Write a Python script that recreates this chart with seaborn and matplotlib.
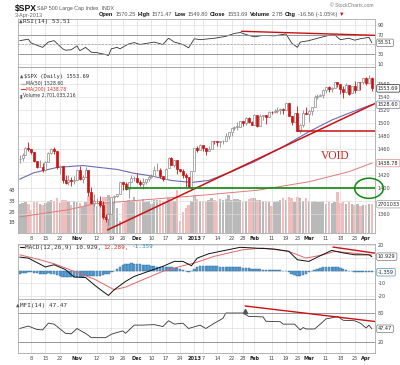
import numpy as np
import pandas as pd
import matplotlib
matplotlib.use("Agg")
import matplotlib.pyplot as plt
import seaborn as sns
from matplotlib.patches import Ellipse
from matplotlib.lines import Line2D

# trading sessions on the chart: 2 Oct 2012 .. 3 Apr 2013
holidays = ["2012-10-29", "2012-10-30", "2012-11-22", "2012-12-25",
            "2013-01-01", "2013-01-21", "2013-02-18", "2013-03-29"]
sessions = pd.bdate_range("2012-10-02", "2013-04-03")
sessions = sessions[~sessions.isin(pd.to_datetime(holidays))]

opens = [1444.99, 1446.05, 1451.08, 1461.40, 1460.93, 1455.90, 1441.48, 1432.82, 1432.84, 1428.75,
         1440.31, 1454.22, 1460.94, 1457.34, 1433.21, 1433.74, 1413.20, 1409.74, 1412.97, 1410.99,
         1412.20, 1427.59, 1414.02, 1417.26, 1428.27, 1394.53, 1377.55, 1379.86, 1380.03, 1374.64,
         1355.41, 1353.36, 1359.88, 1386.82, 1387.79, 1391.03, 1409.15, 1406.29, 1398.77, 1409.96,
         1415.95, 1416.34, 1409.46, 1407.05, 1409.43, 1413.95, 1418.07, 1418.55, 1427.84, 1428.48,
         1419.45, 1413.54, 1430.47, 1446.79, 1435.81, 1443.67, 1430.15, 1426.66, 1419.83, 1418.10,
         1402.43, 1426.19, 1462.42, 1459.37, 1466.47, 1461.89, 1457.15, 1461.02, 1472.12, 1472.05,
         1470.67, 1472.33, 1472.63, 1480.95, 1485.98, 1492.56, 1494.81, 1494.82, 1502.96, 1500.18,
         1507.84, 1501.96, 1498.11, 1513.17, 1495.71, 1511.29, 1512.12, 1509.39, 1517.93, 1517.01,
         1519.43, 1520.33, 1521.38, 1519.79, 1530.94, 1511.95, 1502.42, 1515.60, 1487.85, 1496.94,
         1515.99, 1514.68, 1518.20, 1525.20, 1539.79, 1541.46, 1544.26, 1551.15, 1556.22, 1552.48,
         1554.52, 1563.21, 1560.70, 1552.10, 1548.34, 1558.71, 1545.90, 1556.89, 1551.69, 1563.75,
         1562.86, 1569.18, 1562.17, 1570.25]
highs = [1451.52, 1454.30, 1463.14, 1470.96, 1460.93, 1455.90, 1442.52, 1443.90, 1438.43, 1441.31,
         1455.51, 1462.20, 1464.02, 1457.34, 1435.46, 1433.74, 1420.04, 1421.12, 1417.09, 1418.76,
         1428.35, 1434.27, 1419.90, 1433.38, 1428.27, 1401.23, 1391.39, 1384.87, 1388.81, 1380.13,
         1360.62, 1362.03, 1386.89, 1389.77, 1391.25, 1409.16, 1409.15, 1409.01, 1410.31, 1419.70,
         1418.86, 1423.73, 1413.14, 1415.56, 1413.95, 1420.34, 1421.64, 1434.27, 1438.59, 1431.36,
         1419.45, 1430.67, 1448.00, 1447.75, 1443.70, 1443.67, 1430.15, 1429.42, 1422.80, 1418.10,
         1426.74, 1462.43, 1465.47, 1467.94, 1466.47, 1461.89, 1464.73, 1472.30, 1472.75, 1472.05,
         1473.31, 1473.96, 1485.16, 1485.98, 1492.56, 1496.13, 1502.27, 1503.26, 1503.23, 1509.35,
         1509.94, 1504.19, 1514.41, 1513.17, 1514.96, 1512.53, 1512.90, 1518.31, 1518.31, 1522.29,
         1524.69, 1523.14, 1524.24, 1530.94, 1530.94, 1511.95, 1515.64, 1525.84, 1498.99, 1520.08,
         1525.34, 1519.99, 1525.27, 1543.47, 1545.25, 1545.78, 1552.48, 1556.27, 1556.77, 1556.39,
         1563.32, 1563.62, 1560.70, 1557.25, 1561.56, 1558.71, 1557.74, 1564.91, 1563.95, 1564.07,
         1570.28, 1570.57, 1573.66, 1571.47]
lows = [1439.01, 1441.99, 1451.08, 1456.89, 1453.10, 1441.18, 1430.64, 1432.82, 1425.53, 1427.24,
        1440.31, 1453.35, 1452.63, 1429.85, 1422.06, 1407.56, 1407.10, 1405.14, 1403.28, 1405.95,
        1412.20, 1412.91, 1408.13, 1417.26, 1388.14, 1377.51, 1373.03, 1377.19, 1370.78, 1352.50,
        1348.05, 1343.35, 1359.88, 1377.04, 1386.39, 1391.03, 1397.68, 1398.03, 1385.43, 1409.04,
        1411.63, 1408.46, 1403.65, 1398.23, 1405.93, 1410.90, 1415.64, 1418.55, 1426.76, 1416.00,
        1411.88, 1413.54, 1430.47, 1435.80, 1432.82, 1422.58, 1424.66, 1416.43, 1401.80, 1401.58,
        1398.11, 1426.19, 1455.53, 1458.99, 1456.62, 1451.64, 1457.15, 1461.02, 1467.58, 1465.69,
        1463.76, 1467.60, 1472.63, 1475.81, 1481.16, 1489.90, 1489.46, 1494.82, 1496.33, 1498.09,
        1500.11, 1496.76, 1498.11, 1495.02, 1495.71, 1504.71, 1498.49, 1509.39, 1513.61, 1515.61,
        1515.93, 1514.02, 1514.14, 1519.79, 1511.41, 1497.29, 1502.42, 1487.85, 1485.01, 1494.88,
        1514.46, 1501.48, 1512.29, 1525.20, 1538.11, 1541.46, 1539.19, 1547.36, 1548.24, 1548.25,
        1554.52, 1555.74, 1545.13, 1538.57, 1548.34, 1543.55, 1545.90, 1546.22, 1551.69, 1551.90,
        1561.08, 1558.47, 1562.17, 1549.80]
closes = [1445.75, 1450.99, 1461.40, 1460.93, 1455.88, 1441.48, 1432.56, 1432.84, 1428.59, 1440.13,
          1454.92, 1460.91, 1457.34, 1433.19, 1433.82, 1413.11, 1408.75, 1412.97, 1411.94, 1412.16,
          1427.59, 1414.20, 1417.26, 1428.39, 1394.53, 1377.51, 1379.85, 1380.03, 1374.53, 1355.49,
          1353.33, 1359.88, 1386.89, 1387.81, 1391.03, 1409.15, 1406.29, 1398.94, 1409.93, 1415.95,
          1416.18, 1409.46, 1407.05, 1409.28, 1413.94, 1418.07, 1418.55, 1427.84, 1428.48, 1419.45,
          1413.58, 1430.36, 1446.79, 1435.81, 1443.69, 1430.15, 1426.66, 1419.83, 1418.10, 1402.43,
          1426.19, 1462.42, 1459.37, 1466.47, 1461.89, 1457.15, 1461.02, 1472.12, 1472.05, 1470.68,
          1472.34, 1472.63, 1480.94, 1485.98, 1492.56, 1494.81, 1494.82, 1502.96, 1500.18, 1507.84,
          1501.96, 1498.11, 1513.17, 1495.71, 1511.29, 1512.12, 1509.39, 1517.93, 1517.01, 1519.43,
          1520.33, 1521.38, 1519.79, 1530.94, 1511.95, 1502.42, 1515.60, 1487.85, 1496.94, 1515.99,
          1514.68, 1518.20, 1525.20, 1539.79, 1541.46, 1544.26, 1551.18, 1556.22, 1552.48, 1554.52,
          1563.23, 1560.70, 1552.10, 1548.34, 1558.71, 1545.80, 1556.89, 1551.69, 1563.77, 1562.85,
          1569.19, 1562.17, 1570.25, 1553.69]
volume_bn = [2.7, 2.8, 2.9, 2.7, 2.2, 2.9, 2.9, 2.7, 2.6, 2.8,
             3.0, 3.1, 3.0, 3.3, 2.8, 3.1, 3.1, 3.0, 2.6, 3.0,
             2.9, 2.8, 2.4, 2.9, 3.5, 3.4, 3.1, 2.5, 3.0, 3.4,
             3.4, 3.6, 2.9, 2.9, 2.3, 1.1, 2.8, 3.0, 3.1, 3.0,
             3.4, 3.0, 3.0, 3.2, 2.9, 3.0, 2.7, 3.1, 3.1, 3.1,
             3.0, 3.0, 3.3, 3.1, 3.0, 4.0, 1.1, 2.0, 2.3, 2.6,
             3.0, 3.6, 3.2, 3.0, 3.0, 3.0, 3.1, 3.3, 3.1, 3.0,
             3.2, 3.1, 3.2, 3.6, 3.1, 3.2, 3.2, 3.1, 2.9, 3.0,
             3.2, 3.3, 3.3, 3.1, 3.1, 3.0, 3.0, 2.9, 2.5, 2.9,
             3.0, 3.1, 3.3, 3.1, 3.4, 3.3, 2.9, 3.4, 3.3, 3.0,
             3.3, 3.0, 2.9, 3.0, 2.9, 2.9, 3.0, 2.7, 2.9, 2.8,
             2.9, 3.8, 2.8, 2.9, 2.7, 2.9, 2.7, 2.6, 2.7, 2.5,
             2.6, 2.6, 2.7, 2.701]
macd_hist = [-2.5, -2.2, -1.8, -1.5, -1.5, -1.8, -2.2, -2.5, -2.6, -2.5,
             -2.3, -2.5, -3.0, -3.8, -4.4, -4.8, -5.0, -5.1, -5.1, -5.2,
             -4.9, -4.8, -4.7, -4.5, -4.6, -4.5, -4.3, -4.1, -4.0, -3.6,
             -3.0, -2.6, -1.5, -0.2, 1.5, 3.0, 4.2, 5.0, 5.4, 5.6,
             5.4, 5.2, 4.9, 4.6, 4.3, 4.0, 3.6, 3.3, 3.0, 2.8,
             2.6, 2.8, 3.0, 2.6, 2.2, 1.8, 1.2, 0.5, -0.6, -1.5,
             -0.5, 1.5, 2.8, 3.2, 3.3, 3.2, 3.3, 3.4, 3.3, 3.2,
             3.0, 2.9, 2.9, 2.8, 2.8, 2.7, 2.6, 2.4, 2.1, 1.9,
             1.7, 1.4, 1.3, 1.0, 0.9, 0.7, 0.5, 0.4, 0.3, 0.3,
             0.2, 0.1, -0.1, -0.4, -1.2, -2.4, -3.6, -4.6, -4.2, -3.4,
             -2.5, -1.5, -0.4, 0.6, 1.3, 2.0, 2.6, 2.9, 2.9, 2.8,
             2.6, 2.4, 1.8, 1.0, 0.4, -0.2, -0.6, -0.9, -1.0, -1.0,
             -0.9, -0.9, -1.1, -1.359]

# indicator lines (session number, value)
ma50_day = [0, 5, 13, 22, 28, 34, 40, 46, 53, 60, 66, 74, 82, 92, 101, 109, 117, 123]
ma50_val = [1414, 1424, 1432, 1435, 1432, 1429, 1423, 1419, 1412, 1409, 1412, 1425.6,
            1441, 1464, 1487, 1505, 1519, 1528.6]
ma200_day = [0, 17, 26, 40, 63, 83, 101, 115, 123]
ma200_val = [1356, 1367, 1376, 1381, 1389, 1397, 1410, 1425.5, 1438.78]

rsi_day = [0, 3, 4, 8, 10, 12, 15, 16, 18, 20, 21, 23, 25, 27, 30, 31, 32, 34, 35, 38,
           40, 42, 45, 47, 50, 52, 54, 57, 59, 61, 63, 68, 72, 75, 77, 80, 82, 85, 89, 93,
           95, 97, 98, 101, 104, 108, 110, 112, 115, 117, 119, 122, 123]
rsi_val = [58, 61, 53, 44, 55, 58, 41, 38, 39, 47, 37, 44, 34, 33, 29, 27, 41, 44, 41, 51,
           54, 50, 53, 55, 50, 63, 55, 50, 43, 62, 60, 63, 67, 73, 75, 69, 66, 69, 68, 72,
           53, 44, 55, 58, 63, 69, 70, 60, 63, 59, 62, 65, 53.51]

macd_day = [0, 3, 9, 12, 16, 19, 23, 26, 29, 31, 33, 37, 40, 45, 50, 54, 57, 60, 62, 66,
            70, 77, 82, 89, 94, 97, 101, 104, 109, 112, 117, 122, 123]
macd_val = [10.6, 9.8, 2.8, 4.6, 0.7, -5.1, -5.5, -11.2, -16.4, -19.6, -15.1, -8.5, -4.6,
            -0.6, 3.3, 7.2, 7.2, 3.8, 9.8, 13.2, 15.1, 18.3, 17.7, 16.9, 15.1, 8.5, 7.2,
            10.6, 15.9, 14.3, 12.4, 12.4, 10.929]
signal_day = [0, 6, 12, 19, 26, 33, 37, 43, 50, 57, 61, 68, 78, 85, 94, 100, 106, 110, 117, 123]
signal_val = [12.4, 9.1, 5.4, -0.6, -6.7, -15.1, -13.0, -7.2, -0.6, 3.8, 5.9, 11.2, 16.4,
              17.7, 15.1, 9.8, 12.4, 15.1, 13.6, 12.289]

mfi_day = [0, 3, 6, 8, 10, 12, 16, 18, 20, 22, 23, 25, 30, 32, 33, 36, 37, 40, 43, 47,
           50, 52, 54, 57, 59, 63, 65, 68, 71, 72, 78, 80, 85, 86, 91, 92, 96, 98, 99, 100,
           103, 105, 107, 109, 111, 113, 117, 119, 121, 122, 123]
mfi_val = [48, 53, 46, 45, 59, 57, 38, 37, 48, 41, 38, 29, 29, 36, 38, 43, 38, 55, 55, 56,
           52, 64, 57, 59, 48, 55, 48, 59, 69, 80, 80, 73, 72, 63, 62, 57, 57, 45, 50, 47,
           47, 57, 68, 70, 73, 65, 64, 59, 49, 55, 47.47]

# hand-drawn annotations on the original
price_trend_day = [30.7, 124.7]
price_trend_val = [1336, 1531.7]
support_day = [96.7, 125]
support_val = 1487.8
void_day = [36.8, 125]
void_val = 1400
rsi_trend_day = [77.5, 124.7]
rsi_trend_val = [77.5, 69]
macd_trend_day = [109.4, 124.7]
macd_trend_val = [18.5, 13.5]
mfi_trend_day = [78.7, 124.7]
mfi_trend_val = [94.6, 62]

tick_dates = ["2012-10-08", "2012-10-15", "2012-10-22", "2012-11-01", "2012-11-12",
              "2012-11-19", "2012-11-26", "2012-12-03", "2012-12-10", "2012-12-17",
              "2012-12-24", "2013-01-02", "2013-01-07", "2013-01-14", "2013-01-22",
              "2013-01-28", "2013-02-01", "2013-02-11", "2013-02-19", "2013-02-25",
              "2013-03-01", "2013-03-11", "2013-03-18", "2013-03-25", "2013-04-01"]
tick_labels = ["8", "15", "22", "Nov", "12", "19", "26", "Dec", "10", "17", "24", "2013",
               "7", "14", "22", "28", "Feb", "11", "19", "25", "Mar", "11", "18", "25", "Apr"]
month_labels = {"Nov", "Dec", "2013", "Feb", "Mar", "Apr"}

# right-hand scales; labels sitting under a value tag are left blank as on the original
price_ticks = [1360, 1380, 1400, 1420, 1440, 1460, 1480, 1500, 1520, 1540, 1560]
price_tick_labels = ["1360", "", "1400", "1420", "", "1460", "1480", "1500", "1520", "1540", "1560"]
rsi_ticks = [10, 30, 50, 70, 90]
rsi_tick_labels = ["10", "30", "", "70", "90"]
macd_ticks = [-20, -10, 0, 10, 20]
macd_tick_labels = ["-20", "-10", "", "", "20"]
mfi_ticks = [20, 50, 80]
mfi_tick_labels = ["20", "", "80"]

sns.set_theme(style="white")
plt.rcParams["font.family"] = ["DejaVu Sans"]

df = pd.DataFrame({"open": opens, "high": highs, "low": lows, "close": closes,
                   "volume": volume_bn, "hist": macd_hist}, index=sessions)
df["day"] = np.arange(len(df))
df["up"] = df["close"] >= df["open"]
tick_pos = [sessions.get_loc(pd.Timestamp(d)) for d in tick_dates]

W, H = 400, 365
fig = plt.figure(figsize=(W / 100, H / 100), dpi=100)


def rect(top, bottom):
    return [18 / W, 1 - bottom / H, 357 / W, (bottom - top) / H]


ax_rsi = fig.add_axes(rect(19, 67))
ax_price = fig.add_axes(rect(67, 233))
ax_vol = ax_price.twinx()
ax_macd = fig.add_axes(rect(244, 299))
ax_mfi = fig.add_axes(rect(299, 353))
ax_vol.set_zorder(1)
ax_price.set_zorder(2)
ax_price.patch.set_visible(False)

XLIM = (-0.6, 124.1)
GRID = "#dedede"
EDGE = "#a8a8a8"
TICK = 3.6
RED = "#cc1111"

# volume (behind the candles)
ax_vol.bar(df["day"], df["volume"], width=0.85,
           color=np.where(df["up"], "#b9b9b9", "#f2bcbc"), linewidth=0)
ax_vol.set_ylim(0, 15.56)
ax_vol.yaxis.tick_left()
ax_vol.set_yticks([1, 2, 3, 4])
ax_vol.set_yticklabels(["1B", "2B", "3B", "4B"])
ax_vol.tick_params(axis="y", length=0, labelsize=TICK, labelcolor="#444", pad=2)

# candles
wick = np.where(df["up"], "#8a8a8a", RED)
ax_price.vlines(df["day"], df["low"], df["high"], colors=wick, lw=0.6, zorder=3)
body_low = df[["open", "close"]].min(axis=1)
body_h = (df["close"] - df["open"]).abs().clip(lower=0.6)
ax_price.bar(df["day"], body_h, bottom=body_low, width=0.7,
             color=np.where(df["up"], "white", RED), edgecolor=wick, linewidth=0.5, zorder=4)

sns.lineplot(x=ma50_day, y=ma50_val, ax=ax_price, color="#6b6bb5", lw=0.8, zorder=2)
sns.lineplot(x=ma200_day, y=ma200_val, ax=ax_price, color="#e07a7a", lw=0.7, zorder=2)

ax_price.plot(price_trend_day, price_trend_val, color=RED, lw=1.1, zorder=5)
ax_price.hlines(support_val, *support_day, color=RED, lw=1.1, zorder=5)
ax_price.hlines(void_val, *void_day, color="#118811", lw=1.2, zorder=5)
ax_price.add_patch(Ellipse((122, 1400), 10, 31, fill=False, ec="#118811", lw=1.1,
                           clip_on=False, zorder=6))
ax_price.text(110.3, 1450, "VOID", color="#cc2222", family="Liberation Serif",
              fontsize=8.3, ha="center", va="center")
ax_price.set_ylim(1331.2, 1586.6)
ax_price.set_yticks(price_ticks)
ax_price.set_yticklabels(price_tick_labels)

# RSI
sns.lineplot(x=rsi_day, y=rsi_val, ax=ax_rsi, color="#333333", lw=0.6)
ax_rsi.axhline(70, color="#8c8c8c", lw=0.6)
ax_rsi.axhline(30, color="#8c8c8c", lw=0.6)
ax_rsi.axhline(50, color="#9a9a9a", lw=0.5, dashes=(3, 2))
ax_rsi.plot(rsi_trend_day, rsi_trend_val, color=RED, lw=1.0)
ax_rsi.set_ylim(3.1, 103.1)
ax_rsi.set_yticks(rsi_ticks)
ax_rsi.set_yticklabels(rsi_tick_labels)

# MACD
ax_macd.bar(df["day"], df["hist"], width=0.85, color="#5c9fd2", edgecolor="#2d6d9c", linewidth=0.3)
sns.lineplot(x=signal_day, y=signal_val, ax=ax_macd, color="#e06666", lw=0.7)
sns.lineplot(x=macd_day, y=macd_val, ax=ax_macd, color="#111111", lw=0.7)
ax_macd.plot(macd_trend_day, macd_trend_val, color=RED, lw=1.0)
ax_macd.set_ylim(-22.4, 20.9)
ax_macd.set_yticks(macd_ticks)
ax_macd.set_yticklabels(macd_tick_labels)

# MFI
sns.lineplot(x=mfi_day, y=mfi_val, ax=ax_mfi, color="#333333", lw=0.6)
ax_mfi.axhline(80, color="#8c8c8c", lw=0.6)
ax_mfi.axhline(20, color="#8c8c8c", lw=0.6)
ax_mfi.plot(mfi_trend_day, mfi_trend_val, color=RED, lw=1.0)
ax_mfi.plot([mfi_trend_day[0]], [84], marker="^", ms=3, color="#555555")
ax_mfi.set_ylim(-2.7, 109)
ax_mfi.set_yticks(mfi_ticks)
ax_mfi.set_yticklabels(mfi_tick_labels)

for ax in (ax_rsi, ax_price, ax_macd, ax_mfi):
    ax.set_xlim(*XLIM)
    ax.set_xticks(tick_pos)
    ax.grid(True, color=GRID, lw=0.5)
    ax.set_axisbelow(True)
    ax.yaxis.tick_right()
    ax.tick_params(axis="both", length=0, labelsize=TICK, labelcolor="#444", pad=2)
    ax.set_xlabel("")
    ax.set_ylabel("")
    for s in ax.spines.values():
        s.set_color(EDGE)
        s.set_linewidth(0.6)
for s in ax_vol.spines.values():
    s.set_visible(False)

for ax in (ax_price, ax_mfi):
    ax.set_xticklabels(tick_labels)
    for lab in ax.get_xticklabels():
        if lab.get_text() in month_labels:
            lab.set_fontweight("bold")
            lab.set_color("#222222")
for ax in (ax_rsi, ax_macd):
    ax.tick_params(labelbottom=False)


def tag(ax, y, text, ec, ytrans=None):
    yc = ytrans if ytrans is not None else ax.transData
    ax.annotate(text, xy=(1, y), xycoords=(ax.transAxes, yc), xytext=(3, 0),
                textcoords="offset pixels", ha="left", va="center", fontsize=TICK,
                color="#222222", annotation_clip=False, zorder=10,
                bbox=dict(boxstyle="round,pad=0.25", fc="white", ec=ec, lw=0.5))


tag(ax_rsi, 53.51, "53.51", "#777777")
tag(ax_price, 1553.69, "1553.69", "#222222")
tag(ax_price, 1528.60, "1528.60", "#7777aa")
tag(ax_price, 1438.78, "1438.78", "#d98888")
tag(ax_price, 2.701, "2701033", "#999999", ax_vol.transData)
tag(ax_macd, 10.929, "10.929", "#777777")
tag(ax_macd, -1.359, "-1.359", "#4a90c0")
tag(ax_mfi, 47.47, "47.47", "#777777")

# header and panel captions
renderer = fig.canvas.get_renderer()


def text_run(x, y, parts, size, family, gap=2.0):
    for s, color, weight in parts:
        t = fig.text(x / W, 1 - y / H, s, fontsize=size, color=color, fontweight=weight,
                     family=family, ha="left", va="center")
        x = t.get_window_extent(renderer).x1 + gap
    return x


SANS = ["Liberation Sans", "DejaVu Sans"]
MONO = ["DejaVu Sans Mono"]
text_run(15, 8.5, [("$SPX", "#111111", "bold")], 6.2, SANS)
text_run(37, 8.5, [("S&P 500 Large Cap Index  INDX", "#555555", "normal")], 3.8, SANS)
text_run(15, 15, [("3-Apr-2013", "#666666", "normal")], 4.1, SANS)
text_run(99, 14.5, [("Open", "#111", "bold"), ("1570.25", "#555", "normal"),
                    ("High", "#111", "bold"), ("1571.47", "#555", "normal"),
                    ("Low", "#111", "bold"), ("1549.80", "#555", "normal"),
                    ("Close", "#111", "bold"), ("1553.69", "#555", "normal"),
                    ("Volume", "#111", "bold"), ("2.7B", "#555", "normal"),
                    ("Chg", "#111", "bold"), ("-16.56 (-1.05%)", "#555", "normal"),
                    ("▼", RED, "normal")], 4.1, SANS, gap=1.9)
fig.text(330 / W, 1 - 5.5 / H, "© StockCharts.com", fontsize=3.6, color="#777777",
         family=SANS, va="center")

text_run(19, 21.5, [("▲", "#555", "normal"), ("RSI(14) 53.51", "#333", "normal")], 4.3, MONO, gap=0.5)
text_run(20, 76.7, [("▲", "#555", "normal"), ("$SPX (Daily) 1553.69", "#333", "normal")], 4.0, MONO, gap=0.5)
for y, label, color in [(83.5, "MA(50) 1528.60", "#333333"), (89.3, "MA(200) 1438.78", "#cc3333")]:
    fig.add_artist(Line2D([20.5 / W, 25 / W], [1 - y / H] * 2, color=color, lw=0.8))
    fig.text(26.5 / W, 1 - y / H, label, fontsize=3.3, color=color, va="center")
text_run(20, 95.3, [("▮", "#555", "normal"), ("Volume 2,701,033,216", "#333", "normal")], 3.3, ["DejaVu Sans"], gap=0.5)

fig.add_artist(Line2D([20 / W, 24 / W], [1 - 247 / H] * 2, color="#111111", lw=0.8))
text_run(25, 247, [("MACD(12,26,9) 10.929,", "#333", "normal"), ("12.289,", "#cc3333", "normal"),
                   ("-1.359", "#3a8ab8", "normal")], 4.3, MONO, gap=2.5)
text_run(16, 305, [("▲", "#555", "normal"), ("MFI(14) 47.47", "#333", "normal")], 4.3, MONO, gap=0.5)

fig.savefig("out.png", dpi=100, facecolor="white")
